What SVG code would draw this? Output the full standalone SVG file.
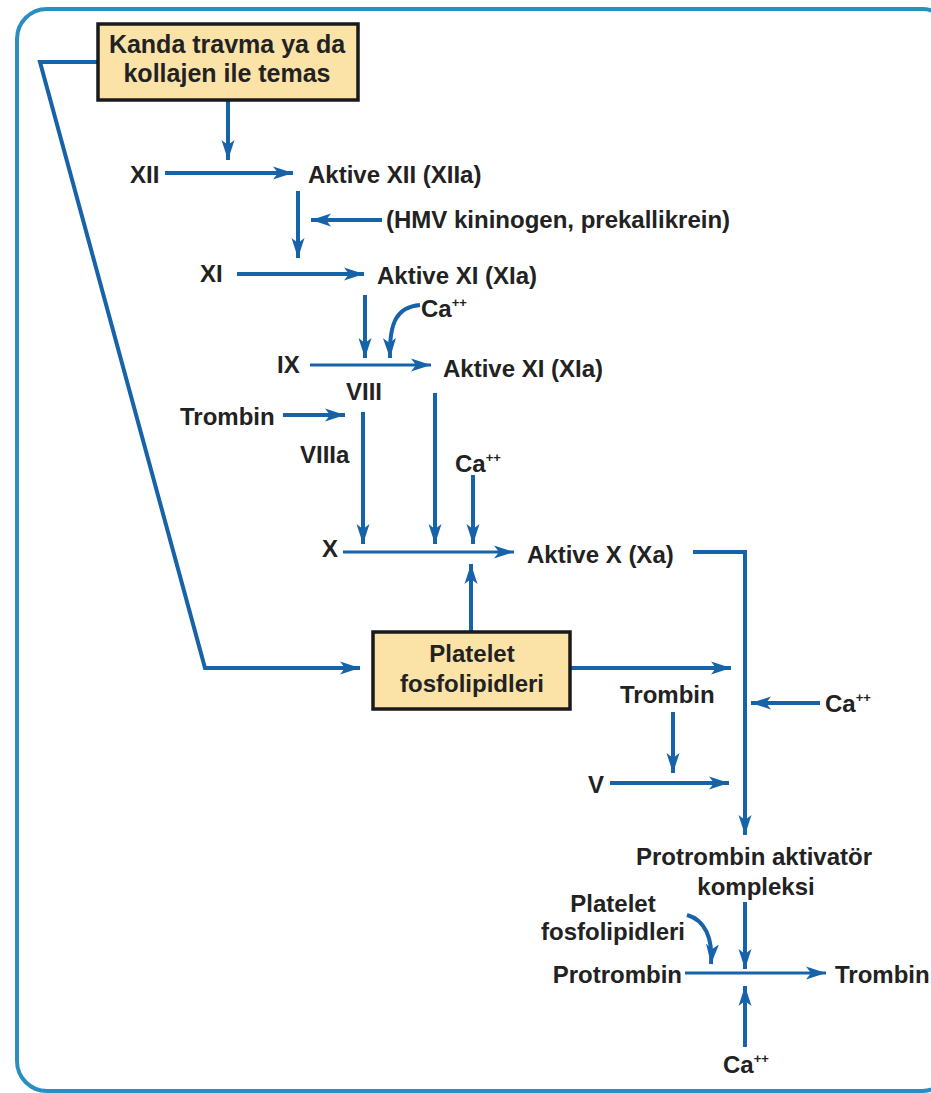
<svg xmlns="http://www.w3.org/2000/svg" width="931" height="1093" viewBox="0 0 931 1093">
<style>
text{font-family:"Liberation Sans",Arial,sans-serif;font-weight:bold;font-size:24px;fill:#222;}
.m{text-anchor:middle;}
.e{text-anchor:end;}
.big{font-size:25px;}
.sup{font-size:13px;}
.box{fill:#fbe3a8;stroke:#1a1a1a;stroke-width:3.5;}
.c{fill:none;stroke:#1763aa;stroke-width:4;}
.t{fill:none;stroke:#1763aa;stroke-width:2.8;}
.frame{fill:none;stroke:#2a8fc0;stroke-width:4;}
</style>
<defs>
<marker id="ah" markerUnits="userSpaceOnUse" markerWidth="22" markerHeight="16" refX="20" refY="7" orient="auto">
<path d="M0,0.5 L20,7 L0,13.5 L5,7 z" fill="#1763aa"/>
</marker>
</defs>
<rect x="0" y="0" width="931" height="1093" fill="#fff"/>
<rect class="frame" x="17" y="9" width="935" height="1082" rx="30"/>

<g id="connectors">
<polyline class="c" points="98,62 40,62 205,668 360,668" marker-end="url(#ah)"/>
<line class="c" x1="228" y1="100" x2="228" y2="160" marker-end="url(#ah)"/>
<line class="c" x1="165" y1="173" x2="293" y2="173" marker-end="url(#ah)"/>
<line class="c" x1="298" y1="191" x2="298" y2="258" marker-end="url(#ah)"/>
<line class="c" x1="382" y1="220" x2="311" y2="220" marker-end="url(#ah)"/>
<line class="c" x1="237" y1="274" x2="364" y2="274" marker-end="url(#ah)"/>
<line class="c" x1="365" y1="295" x2="365" y2="358" marker-end="url(#ah)"/>
<path class="c" d="M420,305 C398,307 389,320 390,358" marker-end="url(#ah)"/>
<line class="t" x1="310" y1="365" x2="431" y2="365" marker-end="url(#ah)"/>
<line class="c" x1="283" y1="415" x2="345" y2="415" marker-end="url(#ah)"/>
<line class="c" x1="363" y1="412" x2="363" y2="544" marker-end="url(#ah)"/>
<line class="c" x1="435" y1="393" x2="435" y2="544" marker-end="url(#ah)"/>
<line class="c" x1="473" y1="475" x2="473" y2="544" marker-end="url(#ah)"/>
<line class="t" x1="343" y1="552" x2="514" y2="552" marker-end="url(#ah)"/>
<polyline class="c" points="693,552 745,552 745,835" marker-end="url(#ah)"/>
<line class="c" x1="471" y1="632" x2="471" y2="564" marker-end="url(#ah)"/>
<line class="c" x1="570" y1="668" x2="731" y2="668" marker-end="url(#ah)"/>
<line class="c" x1="673" y1="712" x2="673" y2="773" marker-end="url(#ah)"/>
<line class="c" x1="610" y1="783" x2="729" y2="783" marker-end="url(#ah)"/>
<line class="c" x1="820" y1="703" x2="751" y2="703" marker-end="url(#ah)"/>
<line class="c" x1="745" y1="902" x2="745" y2="969" marker-end="url(#ah)"/>
<path class="c" d="M687,915 C705,920 713,938 711,964" marker-end="url(#ah)"/>
<line class="t" x1="685" y1="973" x2="826" y2="973" marker-end="url(#ah)"/>
<line class="c" x1="745" y1="1047" x2="745" y2="986" marker-end="url(#ah)"/>
</g>

<g id="n-kanda">
<rect class="box" x="98" y="24" width="260" height="76"/>
<text class="m big" x="227" y="53">Kanda travma ya da</text>
<text class="m big" x="227" y="82">kollajen ile temas</text>
</g>
<g id="n-xii"><text x="130" y="183">XII</text></g>
<g id="n-xiia"><text x="308" y="183">Aktive XII (XIIa)</text></g>
<g id="n-hmv"><text x="386" y="228">(HMV kininogen, prekallikrein)</text></g>
<g id="n-xi"><text x="200" y="282">XI</text></g>
<g id="n-xia"><text x="377" y="284">Aktive XI (XIa)</text></g>
<g id="n-ca1"><text x="421" y="317">Ca<tspan class="sup" dy="-10">++</tspan></text></g>
<g id="n-ix"><text x="277" y="373">IX</text></g>
<g id="n-ixa"><text x="443" y="377">Aktive XI (XIa)</text></g>
<g id="n-viii"><text class="m" x="364" y="400">VIII</text></g>
<g id="n-trombin1"><text x="180" y="425">Trombin</text></g>
<g id="n-viiia"><text x="300" y="463">VIIIa</text></g>
<g id="n-ca2"><text x="455" y="472">Ca<tspan class="sup" dy="-10">++</tspan></text></g>
<g id="n-x"><text x="322" y="557">X</text></g>
<g id="n-xa"><text x="527" y="563">Aktive X (Xa)</text></g>
<g id="n-platelet">
<rect class="box" x="373" y="632" width="197" height="77"/>
<text class="m" x="472" y="662">Platelet</text>
<text class="m" x="472" y="692">fosfolipidleri</text>
</g>
<g id="n-trombin2"><text x="620" y="703">Trombin</text></g>
<g id="n-ca3"><text x="825" y="712">Ca<tspan class="sup" dy="-10">++</tspan></text></g>
<g id="n-v"><text x="588" y="793">V</text></g>
<g id="n-pak">
<text class="m" x="754" y="865">Protrombin aktivatör</text>
<text class="m" x="756" y="895">kompleksi</text>
</g>
<g id="n-pf">
<text class="m" x="613" y="912">Platelet</text>
<text class="m" x="613" y="940">fosfolipidleri</text>
</g>
<g id="n-protrombin"><text class="e" x="682" y="983">Protrombin</text></g>
<g id="n-trombin3"><text x="835" y="983">Trombin</text></g>
<g id="n-ca4"><text x="723" y="1073">Ca<tspan class="sup" dy="-10">++</tspan></text></g>
</svg>
